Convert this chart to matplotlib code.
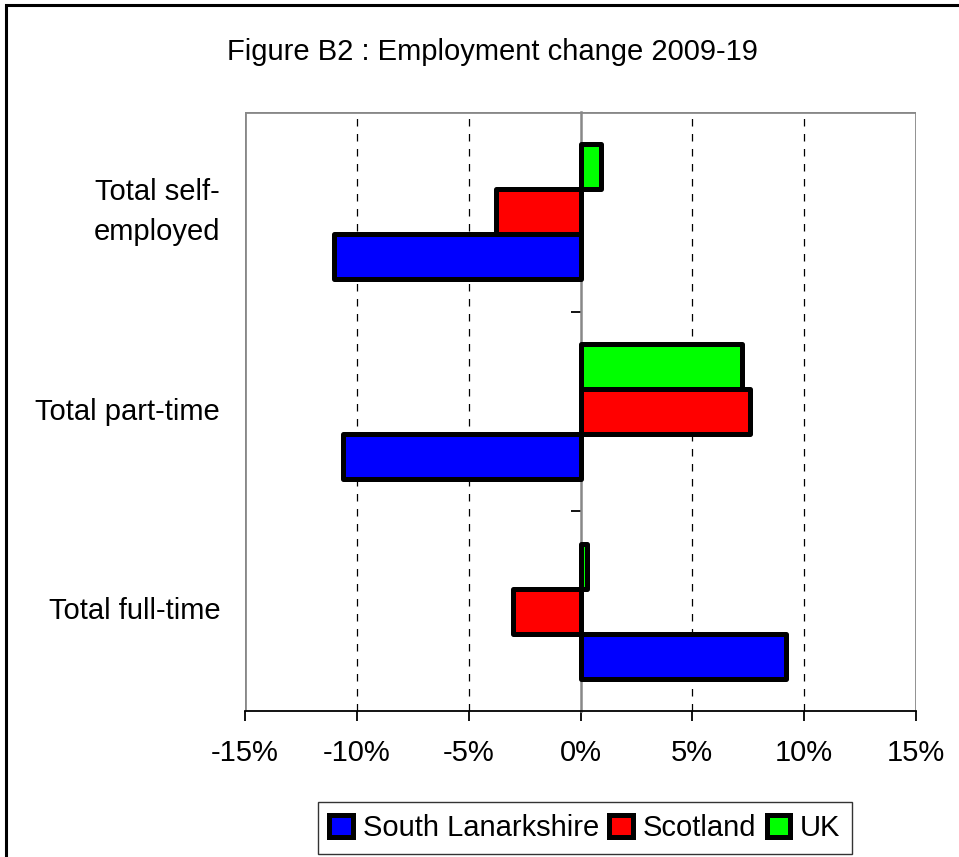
import numpy as np
import matplotlib.pyplot as plt
from matplotlib.patches import Patch, Rectangle
from matplotlib.ticker import FuncFormatter
import matplotlib.transforms as mtransforms

plt.rcParams['font.family'] = ['Liberation Sans', 'DejaVu Sans']

# data (percent change 2009-19), bottom to top
categories = ['Total full-time', 'Total part-time', 'Total self-\nemployed']
south_lanarkshire = [9.2, -10.6, -11.0]
scotland = [-3.0, 7.6, -3.8]
uk = [0.3, 7.2, 0.9]
series_names = ['South Lanarkshire', 'Scotland', 'UK']
series_colors = ['#0000ff', '#ff0000', '#00ff00']
x_ticks = [-15, -10, -5, 0, 5, 10, 15]

fig = plt.figure(figsize=(9.59, 8.57), dpi=100)
ax = fig.add_axes([245 / 959, 1 - 711 / 857, (916 - 245) / 959, (711 - 112) / 857])

# outer frame of chart
fig.patches.append(Rectangle((0.006, -0.05), 1.1, 1.044, transform=fig.transFigure,
                             fill=False, edgecolor='black', linewidth=2.2, zorder=0))

y = np.arange(len(categories)) + 0.5
h = 0.225
offsets = [-h, 0, h]
for vals, off, col in zip([south_lanarkshire, scotland, uk], offsets, series_colors):
    ax.barh(y + off, vals, height=h, color=col, edgecolor='black',
            linewidth=3.6, joinstyle='round', zorder=3)

ax.set_xlim(-15, 15)
ax.set_ylim(0, 3)

# gridlines
for xv in [-10, -5, 5, 10]:
    ax.axvline(xv, color='black', linestyle=(0, (6, 6)), linewidth=0.9, zorder=1)
for xv in [-15, 15]:
    ax.axvline(xv, color='#888888', linewidth=2, zorder=1)
ax.axhline(3, color='#888888', linewidth=2, zorder=1)

# spines: category axis sits at 0
for s in ['top', 'right']:
    ax.spines[s].set_visible(False)
ax.spines['left'].set_position(('data', 0))
ax.spines['left'].set_color('#888888')
ax.spines['left'].set_linewidth(1.8)
ax.spines['left'].set_zorder(2)
ax.spines['bottom'].set_color('black')
ax.spines['bottom'].set_linewidth(1.3)

ax.set_yticks([1, 2])
ax.set_yticklabels([])
ax.tick_params(axis='y', direction='out', length=7, width=1.3, color='black')

ax.set_xticks(x_ticks)
ax.xaxis.set_major_formatter(FuncFormatter(lambda v, p: f'{int(v)}%'))
ax.tick_params(axis='x', direction='out', length=7, width=1.3, pad=13, labelsize=21)

# category labels
trans = mtransforms.blended_transform_factory(ax.transAxes, ax.transData)
for yy, lab in zip(y, categories):
    ax.text(-0.037, yy, lab, transform=trans,
            ha='right', va='center', fontsize=21, linespacing=1.55)

fig.text(0.5136, 1 - 52 / 857, 'Figure B2 : Employment change 2009-19',
         ha='center', va='center', fontsize=21)

handles = [Patch(facecolor=c, edgecolor='black', linewidth=3.6, joinstyle='round')
           for c in series_colors]
leg = fig.legend(handles, series_names, loc='center', bbox_to_anchor=(0.61, 0.034),
                 ncol=3, fontsize=21, frameon=True, fancybox=False, edgecolor='black',
                 handlelength=0.8, handleheight=0.8, handletextpad=0.35,
                 columnspacing=0.35, borderpad=0.4, borderaxespad=0)
leg.get_frame().set_linewidth(1.0)

fig.savefig('out.png', dpi=100)
